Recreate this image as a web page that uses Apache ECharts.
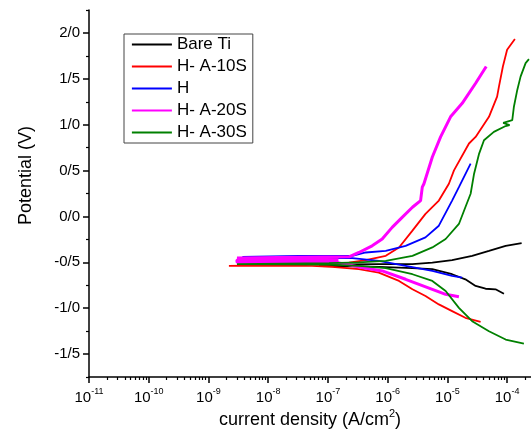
<!DOCTYPE html>
<html><head><meta charset="utf-8">
<script src="https://cdn.jsdelivr.net/npm/echarts@6/dist/echarts.min.js"></script>
<style>html,body{margin:0;padding:0;background:#fff}#c{width:531px;height:439px}</style>
</head><body><div id="c"></div>
<script>
// ---- data: [current density (A/cm2), potential (V)] ----
const seriesNames = ['Bare Ti', 'H- A-10S', 'H', 'H- A-20S', 'H- A-30S'];
const seriesColors = ['#000000', '#ff0000', '#0000ff', '#ff00ff', '#008000'];

const bareTi = [[8.85e-5,-0.842],[6.4e-5,-0.794],[4.36e-5,-0.788],[2.97e-5,-0.758],[2.0e-5,-0.685],[1.2e-5,-0.630],[5.6e-6,-0.575],[2.6e-6,-0.564],[7.1e-7,-0.550],[2.5e-7,-0.545],[7.1e-8,-0.540],[7.1e-8,-0.525],[2.5e-7,-0.522],[7.1e-7,-0.520],[2.6e-6,-0.520],[5.6e-6,-0.503],[1.2e-5,-0.476],[2.6e-5,-0.429],[4.97e-5,-0.375],[9.45e-5,-0.320],[1.75e-4,-0.290]];

const hA10S = [[3.6e-5,-1.149],[2.0e-5,-1.105],[1.2e-5,-1.032],[7.2e-6,-0.959],[4.3e-6,-0.868],[2.6e-6,-0.794],[1.55e-6,-0.703],[7.1e-7,-0.612],[3.3e-7,-0.575],[1.17e-7,-0.550],[5.4e-8,-0.539],[2.2e-9,-0.539],[2.15e-9,-0.531],[1.5e-8,-0.530],[1.04e-7,-0.525],[2.25e-7,-0.503],[4.3e-7,-0.476],[9.3e-7,-0.429],[1.55e-6,-0.338],[2.6e-6,-0.155],[4.3e-6,0.028],[7.2e-6,0.173],[1.06e-5,0.356],[1.29e-5,0.502],[2.3e-5,0.795],[2.97e-5,0.867],[4.97e-5,1.086],[6.8e-5,1.305],[7.3e-5,1.415],[8.5e-5,1.634],[1.0e-4,1.817],[1.35e-4,1.934]];

const hOnly = [[1.77e-5,-0.667],[1.2e-5,-0.649],[5.6e-6,-0.594],[2.0e-6,-0.539],[7.1e-7,-0.484],[2.55e-7,-0.455],[3.3e-8,-0.451],[3.7e-9,-0.440],[3.7e-9,-0.429],[3.3e-8,-0.429],[2.55e-7,-0.429],[4.3e-7,-0.393],[9.3e-7,-0.375],[2.0e-6,-0.320],[4.3e-6,-0.229],[7.2e-6,-0.101],[1.2e-5,0.173],[1.56e-5,0.319],[2.45e-5,0.576]];

const hA20S = [[1.56e-5,-0.875],[9.35e-6,-0.849],[5.6e-6,-0.794],[2.0e-6,-0.685],[8.1e-7,-0.594],[3.3e-7,-0.550],[1.53e-7,-0.506],[3.0e-9,-0.500],[3.0e-9,-0.476],[1.5e-7,-0.476],[1.5e-7,-0.455],[3.0e-9,-0.453],[3.3e-8,-0.446],[2.25e-7,-0.440],[3.3e-7,-0.393],[5.5e-7,-0.320],[8.1e-7,-0.246],[1.19e-6,-0.119],[1.75e-6,-0.010],[2.6e-6,0.100],[3.56e-6,0.173],[3.8e-6,0.319],[4.05e-6,0.356],[5.6e-6,0.648],[7.7e-6,0.867],[1.13e-5,1.086],[1.77e-5,1.233],[2.97e-5,1.452],[4.47e-5,1.634]];

const hA30S = [[1.91e-4,-1.386],[9.45e-5,-1.342],[4.97e-5,-1.251],[2.6e-5,-1.142],[1.56e-5,-0.996],[9.35e-6,-0.813],[5.6e-6,-0.703],[2.6e-6,-0.630],[9.3e-7,-0.564],[3.3e-7,-0.539],[1.04e-7,-0.525],[3.0e-9,-0.520],[3.0e-9,-0.508],[1.04e-7,-0.508],[3.3e-7,-0.500],[9.3e-7,-0.484],[2.6e-6,-0.429],[5.6e-6,-0.338],[9.35e-6,-0.246],[1.56e-5,-0.082],[2.0e-5,0.100],[2.45e-5,0.247],[2.8e-5,0.466],[3.4e-5,0.685],[4.1e-5,0.831],[6.0e-5,0.922],[9.45e-5,0.985],[1.1e-4,0.995],[8.6e-5,1.020],[1.22e-4,1.050],[1.3e-4,1.196],[1.48e-4,1.379],[1.68e-4,1.524],[2.04e-4,1.671],[2.32e-4,1.715]];

const seriesData = [bareTi, hA10S, hOnly, hA20S, hA30S];

// ---- axes ----
const xMinExp = -11, xMaxExp = -3.6;
const xTickExponents = [-11, -10, -9, -8, -7, -6, -5, -4];
const yTickValues = [-1.5, -1.0, -0.5, 0.0, 0.5, 1.0, 1.5, 2.0];
const yMinorValues = [-1.75, -1.25, -0.75, -0.25, 0.25, 0.75, 1.25, 1.75, 2.25];
const yMin = -1.75, yMax = 2.25;

const xMinorPos = [];
xTickExponents.forEach(d => { for (let k = 2; k <= 9; k++) { const v = d + Math.log10(k); if (v <= xMaxExp) xMinorPos.push(v); } });

const FONT = '"Liberation Sans", Arial, sans-serif';
const BLK = '#000';

const chart = echarts.init(document.getElementById('c'));
const option = {
  animation: false,
  backgroundColor: '#fff',
  textStyle: { fontFamily: FONT },
  grid: { left: 89, right: 0, top: 10, bottom: 62, containLabel: false, outerBoundsMode: 'none' },
  legend: {
    data: seriesNames, orient: 'vertical', left: 124, top: 34,
    padding: [2, 6, 2, 7], itemWidth: 40, itemHeight: 14, itemGap: 5,
    borderColor: '#444', borderWidth: 1, backgroundColor: '#fff',
    itemStyle: { opacity: 0, borderWidth: 0 },
    lineStyle: { width: 1.8, opacity: 1 },
    textStyle: { fontSize: 17, fontFamily: FONT, color: '#000' }
  },
  xAxis: [
    { type: 'log', logBase: 10, min: Math.pow(10, xMinExp), max: Math.pow(10, xMaxExp), position: 'bottom',
      axisLine: { show: true, onZero: false, lineStyle: { color: BLK, width: 1.5 } },
      axisTick: { show: false }, axisLabel: { show: false }, splitLine: { show: false },
      name: '{a|current density (A/cm}{s|2}{a|)}', nameLocation: 'middle', nameGap: 31,
      nameTextStyle: { rich: {
        a: { fontSize: 18, fontFamily: FONT, color: BLK, lineHeight: 24 },
        s: { fontSize: 11, fontFamily: FONT, color: BLK, verticalAlign: 'top', lineHeight: 11 } } } },
    { type: 'value', min: xMinExp, max: xMaxExp, position: 'bottom',
      axisLine: { show: false, onZero: false },
      axisTick: { show: true, customValues: xTickExponents, length: 6, lineStyle: { color: BLK, width: 1.5 } },
      axisLabel: { show: true, customValues: xTickExponents, margin: 10,
        formatter: v => '{b|10}{s|' + v + '}',
        rich: {
          b: { fontSize: 15, fontFamily: FONT, color: BLK, lineHeight: 22 },
          s: { fontSize: 9, fontFamily: FONT, color: BLK, verticalAlign: 'top', lineHeight: 9 } } },
      splitLine: { show: false } },
    { type: 'value', min: xMinExp, max: xMaxExp, position: 'bottom',
      axisLine: { show: false, onZero: false },
      axisTick: { show: true, customValues: xMinorPos, length: 3, lineStyle: { color: BLK, width: 1.2 } },
      axisLabel: { show: false }, splitLine: { show: false } }
  ],
  yAxis: [
    { type: 'value', min: yMin, max: yMax, position: 'left',
      axisLine: { show: true, onZero: false, lineStyle: { color: BLK, width: 1.5 } },
      axisTick: { show: true, customValues: yTickValues, length: 6, lineStyle: { color: BLK, width: 1.5 } },
      axisLabel: { show: true, customValues: yTickValues, margin: 9, fontSize: 15, color: BLK, fontFamily: FONT,
        formatter: v => v.toFixed(1).replace('.', '/') },
      splitLine: { show: false },
      name: 'Potential (V)', nameLocation: 'middle', nameGap: 54,
      nameTextStyle: { fontSize: 18, color: BLK, fontFamily: FONT, padding: [0, 0, 0, 36] } },
    { type: 'value', min: yMin, max: yMax, position: 'left', offset: 0,
      axisLine: { show: false, onZero: false },
      axisTick: { show: true, customValues: yMinorValues, length: 3, lineStyle: { color: BLK, width: 1.2 } },
      axisLabel: { show: false }, splitLine: { show: false } }
  ],
  series: seriesNames.map((n, i) => ({
    name: n, type: 'line', xAxisIndex: 0, yAxisIndex: 0, data: seriesData[i],
    symbol: 'none', showSymbol: false, smooth: false,
    lineStyle: { color: seriesColors[i], width: i === 3 ? 3 : 1.8 },
    itemStyle: { color: seriesColors[i] }
  }))
};
chart.setOption(option);
</script></body></html>
